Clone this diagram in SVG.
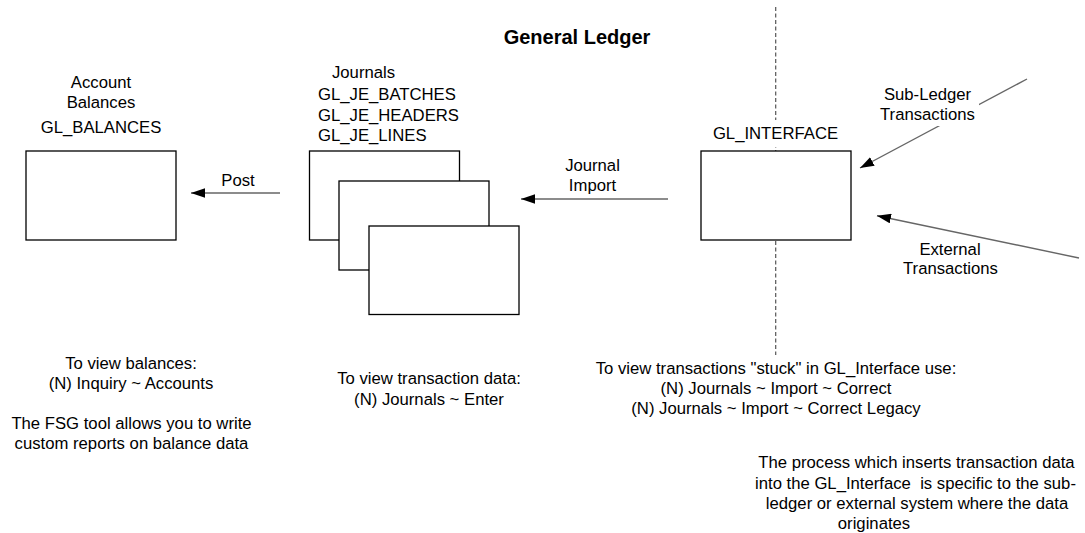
<svg xmlns="http://www.w3.org/2000/svg" width="1085" height="533" viewBox="0 0 1085 533">
<defs>
<style>
text{font-family:"Liberation Sans",Arial,sans-serif;font-size:16.7px;fill:#000}
.mid{text-anchor:middle}
.title{font-weight:bold;font-size:20px}
.box{fill:#fff;stroke:#000;stroke-width:1.3}
.conn{stroke:#666;stroke-width:1.4;fill:none}
.divider{stroke:#555;stroke-width:1.2;stroke-dasharray:4 2.5;fill:none}
.bg{fill:#fff}
</style>
<marker id="arr" markerUnits="userSpaceOnUse" markerWidth="14" markerHeight="10" refX="13" refY="4.5" orient="auto" viewBox="0 0 13 9"><path d="M0,0 L13,4.5 L0,9 z" fill="#000"/></marker>
</defs>
<rect x="0" y="0" width="1085" height="533" fill="#fff"/>

<text id="title" class="title mid" x="577" y="43.5">General Ledger</text>

<line id="divider" class="divider" x1="775.7" y1="7" x2="775.7" y2="355"/>

<g id="connectors">
  <line id="post" class="conn" x1="280" y1="193" x2="191" y2="193" marker-end="url(#arr)"/>
  <text class="mid" x="238" y="186">Post</text>
  <line id="journal-import" class="conn" x1="668" y1="199" x2="521" y2="199" marker-end="url(#arr)"/>
  <text class="mid" x="592.5" y="171">Journal</text>
  <text class="mid" x="592.5" y="191">Import</text>
  <line id="subledger" class="conn" x1="1027" y1="79" x2="860" y2="168" marker-end="url(#arr)"/>
  <rect class="bg" x="879" y="84" width="100" height="42"/>
  <text class="mid" x="927.5" y="99.5">Sub-Ledger</text>
  <text class="mid" x="927.5" y="119.5">Transactions</text>
  <line id="external" class="conn" x1="1079" y1="258" x2="877" y2="215.7" marker-end="url(#arr)"/>
  <text class="mid" x="950" y="254.5">External</text>
  <text class="mid" x="950.5" y="274">Transactions</text>
</g>

<g id="account-balances">
  <text class="mid" x="101" y="88.3">Account</text>
  <text class="mid" x="101" y="108.3">Balances</text>
  <text class="mid" x="101" y="133.3">GL_BALANCES</text>
  <rect class="box" x="26" y="151" width="150" height="89"/>
</g>

<g id="journals">
  <text x="332" y="78.3">Journals</text>
  <text x="318" y="100">GL_JE_BATCHES</text>
  <text x="318" y="121">GL_JE_HEADERS</text>
  <text x="318" y="141">GL_JE_LINES</text>
  <rect class="box" x="309.5" y="151" width="150" height="89"/>
  <rect class="box" x="339" y="181" width="150" height="89"/>
  <rect class="box" x="369" y="226" width="150" height="88.5"/>
</g>

<g id="gl-interface">
  <rect class="bg" x="708" y="120" width="136" height="27"/>
  <text class="mid" x="775.5" y="139">GL_INTERFACE</text>
  <rect class="box" x="701" y="151" width="150" height="89"/>
</g>

<g id="note-balances">
  <text class="mid" x="131" y="369">To view balances:</text>
  <text class="mid" x="131" y="389">(N) Inquiry ~ Accounts</text>
  <text class="mid" x="131.5" y="429">The FSG tool allows you to write</text>
  <text class="mid" x="131.5" y="449">custom reports on balance data</text>
</g>

<g id="note-journals">
  <text class="mid" x="429" y="384">To view transaction data:</text>
  <text class="mid" x="429" y="405">(N) Journals ~ Enter</text>
</g>

<g id="note-interface">
  <text class="mid" x="776" y="374">To view transactions "stuck" in GL_Interface use:</text>
  <text class="mid" x="776" y="394">(N) Journals ~ Import ~ Correct</text>
  <text class="mid" x="776" y="414">(N) Journals ~ Import ~ Correct Legacy</text>
</g>

<g id="note-process">
  <text class="mid" x="916.5" y="468">The process which inserts transaction data</text>
  <text class="mid" x="915.5" y="488.5" xml:space="preserve">into the GL_Interface  is specific to the sub-</text>
  <text class="mid" x="917" y="509">ledger or external system where the data</text>
  <text class="mid" x="874" y="529">originates</text>
</g>
</svg>
